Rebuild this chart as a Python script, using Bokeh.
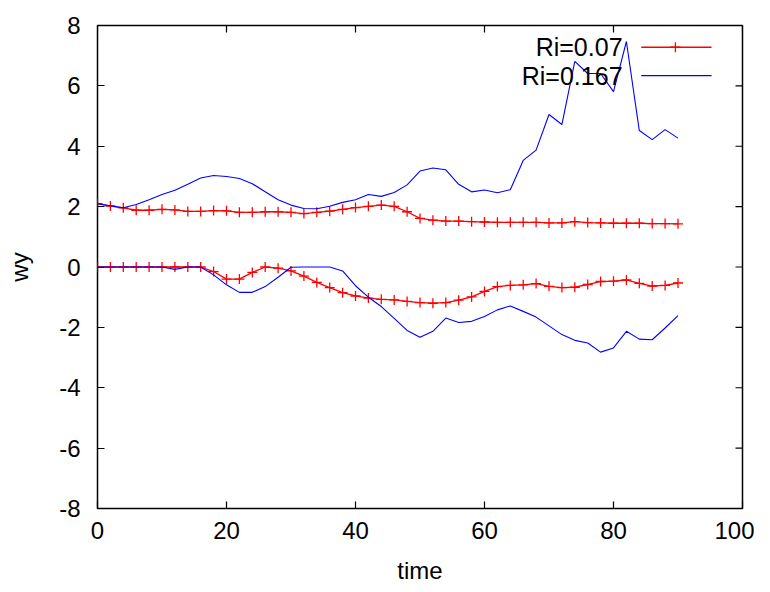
from bokeh.plotting import figure
from bokeh.models import Range1d, FixedTicker
from bokeh.core.properties import value
from bokeh.embed import file_html
from bokeh.resources import INLINE

# ---- data ----
time = [0, 2, 4, 6, 8, 10, 12, 14, 16, 18, 20, 22, 24, 26, 28, 30, 32, 34, 36, 38,
        40, 42, 44, 46, 48, 50, 52, 54, 56, 58, 60, 62, 64, 66, 68, 70, 72, 74, 76, 78,
        80, 82, 84, 86, 88, 90]

ri007_upper = [2.10, 2.02, 1.96, 1.88, 1.88, 1.91, 1.89, 1.84, 1.84, 1.87, 1.86, 1.81, 1.81,
               1.83, 1.83, 1.81, 1.77, 1.81, 1.85, 1.91, 1.97, 2.01, 2.05, 2.01, 1.83, 1.61,
               1.55, 1.52, 1.52, 1.50, 1.49, 1.48, 1.48, 1.48, 1.48, 1.46, 1.46, 1.50, 1.47,
               1.46, 1.45, 1.45, 1.45, 1.44, 1.44, 1.43]
ri007_lower = [0.0, 0.0, 0.0, 0.0, 0.0, 0.0, 0.0, 0.0, 0.0, -0.15, -0.40, -0.40, -0.18, 0.0,
               -0.04, -0.13, -0.30, -0.51, -0.68, -0.85, -0.96, -1.03, -1.07, -1.09, -1.14,
               -1.18, -1.20, -1.18, -1.10, -0.99, -0.81, -0.65, -0.61, -0.59, -0.55, -0.64,
               -0.68, -0.67, -0.58, -0.48, -0.47, -0.43, -0.54, -0.63, -0.61, -0.53]
ri0167_upper = [2.10, 2.03, 1.96, 2.07, 2.23, 2.40, 2.54, 2.74, 2.95, 3.03, 3.00, 2.93, 2.76,
                2.49, 2.23, 2.05, 1.94, 1.93, 2.01, 2.14, 2.23, 2.40, 2.34, 2.47, 2.72, 3.18,
                3.28, 3.22, 2.74, 2.49, 2.55, 2.46, 2.56, 3.53, 3.87, 5.05, 4.72, 6.81, 6.41,
                6.41, 5.81, 7.47, 4.52, 4.22, 4.55, 4.27]
ri0167_lower = [0.0, 0.0, 0.0, 0.0, 0.0, 0.0, -0.08, 0.0, 0.0, -0.26, -0.59, -0.84, -0.84,
                -0.65, -0.34, -0.01, 0.0, 0.0, 0.0, -0.13, -0.62, -1.00, -1.31, -1.70, -2.10,
                -2.33, -2.13, -1.69, -1.84, -1.80, -1.64, -1.42, -1.29, -1.47, -1.66, -1.95,
                -2.24, -2.43, -2.52, -2.82, -2.68, -2.13, -2.39, -2.41, -2.02, -1.61]

series_labels = ["Ri=0.07", "Ri=0.167"]
x_ticks = [0, 20, 40, 60, 80, 100]
y_ticks = [-8, -6, -4, -2, 0, 2, 4, 6, 8]

RED = "#ff0000"
BLUE = "#0000ff"
FONT = "Liberation Sans"
FS = "24px"
X0, X1, Y0, Y1 = 0, 100, -8, 8

p = figure(width=754, height=592, output_backend="svg", toolbar_location=None,
           x_range=Range1d(X0, X1), y_range=Range1d(Y0, Y1),
           min_border_left=97, min_border_right=12, min_border_top=25, min_border_bottom=84)
p.background_fill_color = "white"
p.border_fill_color = "white"
p.outline_line_color = "black"
p.outline_line_width = 1.5
p.xgrid.visible = False
p.ygrid.visible = False

def style_axis(ax, ticks):
    ax.ticker = FixedTicker(ticks=ticks)
    ax.major_label_overrides = {t: str(t) for t in ticks}  # plain hyphen minus
    ax.axis_line_color = None
    ax.major_tick_in = 7
    ax.major_tick_out = 0
    ax.major_tick_line_color = "black"
    ax.major_tick_line_width = 1.2
    ax.minor_tick_line_color = None
    ax.major_label_text_font = FONT
    ax.major_label_text_color = "black"
    ax.major_label_text_font_size = FS
    ax.axis_label_text_font = FONT
    ax.axis_label_text_font_size = FS
    ax.axis_label_text_font_style = "normal"
    ax.axis_label_text_color = "black"

style_axis(p.xaxis[0], x_ticks)
style_axis(p.yaxis[0], y_ticks)
p.xaxis[0].major_label_standoff = 13
p.yaxis[0].major_label_standoff = 17
p.xaxis[0].axis_label = "time"
p.yaxis[0].axis_label = "wy"
p.xaxis[0].axis_label_standoff = 15
p.yaxis[0].axis_label_standoff = 23

# mirror ticks on top and right (gnuplot style), 7px inward
tick_dx = 7 / 645 * (X1 - X0)
tick_dy = 7 / 483 * (Y1 - Y0)
p.segment(x0=x_ticks, y0=[Y1] * len(x_ticks), x1=x_ticks, y1=[Y1 - tick_dy] * len(x_ticks),
          line_color="black", line_width=1.2)
p.segment(x0=[X1] * len(y_ticks), y0=y_ticks, x1=[X1 - tick_dx] * len(y_ticks), y1=y_ticks,
          line_color="black", line_width=1.2)

# ---- series ----
for ys in (ri007_upper, ri007_lower):
    p.line(time, ys, line_color=RED, line_width=1.3)
    p.scatter(time, ys, marker="cross", size=10, line_color=RED, line_width=1.3)
for ys in (ri0167_upper, ri0167_lower):
    p.line(time, ys, line_color=BLUE, line_width=1.1)

# ---- legend (gnuplot style: text then sample) ----
leg_y = [7.28, 6.34]
p.text(x=[81.4, 81.4], y=leg_y, text=series_labels, text_align="right",
       text_baseline="middle", text_font=value(FONT), text_font_size="25px", text_color="black")
p.segment(x0=[84.3], y0=[leg_y[0]], x1=[95.2], y1=[leg_y[0]], line_color=RED, line_width=1.3)
p.scatter(x=[89.6], y=[leg_y[0]], marker="cross", size=10, line_color=RED, line_width=1.3)
p.segment(x0=[84.3], y0=[leg_y[1]], x1=[95.2], y1=[leg_y[1]], line_color=BLUE, line_width=1.1)

open("out.html", "w").write(file_html(p, INLINE))
